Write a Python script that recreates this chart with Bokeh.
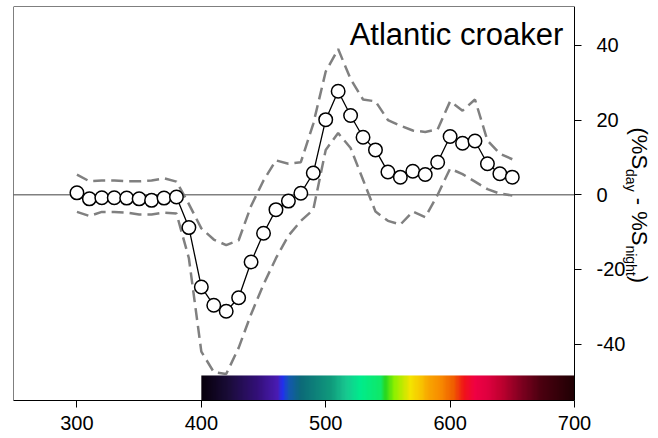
import numpy as np
from bokeh.plotting import figure
from bokeh.models import Range1d, Label, LinearAxis, ColumnDataSource
from bokeh.core.properties import value
from bokeh.embed import file_html
from bokeh.resources import INLINE

# Day-night difference in spectral sensitivity, Atlantic croaker
wavelength = list(range(300, 660, 10))
mean_diff = [0.5, -1.1, -0.8, -0.8, -0.9, -1.1, -1.5, -0.9, -0.6,
             -8.8, -24.7, -29.6, -31.2, -27.6, -18.0, -10.3, -4.0, -1.7, 0.4,
             5.8, 20.1, 27.7, 21.2, 15.4, 12.0, 6.1, 4.7, 6.3, 5.4, 8.7,
             15.6, 13.8, 14.4, 8.3, 5.6, 4.7]
upper_ci = [5.4, 3.6, 3.8, 3.8, 3.6, 3.6, 3.8, 4.4, 3.5,
            -2.5, -9.0, -12.0, -13.5, -12.2, -3.0, 3.8, 9.2, 8.3, 8.7,
            19.0, 33.0, 39.0, 31.0, 25.5, 25.0, 20.0, 18.5, 17.2, 16.8, 17.5,
            25.0, 22.5, 25.5, 14.5, 11.0, 9.5]
lower_ci = [-4.6, -5.7, -4.6, -4.6, -4.8, -5.3, -5.3, -4.8, -5.0,
            -17.0, -42.0, -47.5, -48.0, -41.0, -32.0, -24.0, -17.0, -11.0, -7.0,
            -4.0, 12.0, 16.5, 12.5, 4.0, -4.5, -7.0, -8.0, -4.5, -6.0, 0.0,
            7.0, 5.5, 3.5, 1.5, 0.3, -0.2]

x_ticks = [300, 400, 500, 600, 700]
y_ticks = [-40, -20, 0, 20, 40]
y_tick_labels = {-40: "-40", -20: "-20", 0: "0", 20: "20", 40: "40"}

# colour stops of the visible-spectrum strip (nm, colour)
spectrum_nm = [400, 421, 445, 461, 465, 470, 480, 504, 516, 528, 544, 548,
               555, 568, 576, 582, 592, 603, 611, 620, 630, 641, 657, 673, 700]
spectrum_hex = ["#08000c", "#1a0c38", "#34107a", "#4a1cb4", "#2030f0", "#1458b0",
                "#0c6a78", "#109a7c", "#18c890", "#00ec8c", "#10e868", "#28d820",
                "#8cf000", "#f4e400", "#f8c800", "#f8a800", "#f88c00", "#f05c00",
                "#f01418", "#f00044", "#e00040", "#c00030", "#800020", "#4c0010",
                "#200004"]

FONT = "Liberation Sans"
W, H = 658, 438
LEFT, TOP, BOTTOM = 13, 6, 38
BOX_RIGHT_PX = 574                  # where the plotting box ends
X0, X1 = 249, 700                   # wavelength span of the box
Y0, Y1 = -55.1, 50.4
px_x = (BOX_RIGHT_PX - LEFT) / (X1 - X0)
px_y = (H - TOP - BOTTOM) / (Y1 - Y0)
# the frame runs to the right edge so the axis title can sit inside it
X_FRAME = X0 + (W - LEFT) / px_x

p = figure(width=W, height=H, x_range=Range1d(X0, X_FRAME), y_range=Range1d(Y0, Y1),
           y_axis_location="right", output_backend="svg", toolbar_location=None,
           min_border_left=LEFT, min_border_right=0, min_border_top=TOP,
           min_border_bottom=BOTTOM)
p.xgrid.visible = False
p.ygrid.visible = False
p.outline_line_color = None
p.background_fill_color = "white"
p.border_fill_color = "white"

for ax, ticks in ((p.xaxis, x_ticks), (p.yaxis, y_ticks)):
    ax.ticker = ticks
    ax.major_tick_in = 0
    ax.major_tick_out = 7
    ax.minor_tick_line_color = None
    ax.major_tick_line_color = "black"
    ax.axis_line_color = "black"
    ax.major_label_text_font = FONT
    ax.major_label_text_font_size = "20px"
    ax.major_label_text_color = "black"
p.xaxis.bounds = (X0, X1)
p.xaxis.major_label_standoff = 8
p.yaxis.fixed_location = X1
p.yaxis.major_label_standoff = 15
p.yaxis.major_label_overrides = y_tick_labels

# left and top edges of the box
p.add_layout(LinearAxis(ticker=[], fixed_location=X0, axis_line_color="black",
                        major_tick_line_color=None, minor_tick_line_color=None), "left")
p.add_layout(LinearAxis(ticker=[], fixed_location=Y1, bounds=(X0, X1),
                        axis_line_color="black", major_tick_line_color=None,
                        minor_tick_line_color=None), "above")

# spectrum strip along the bottom, 400-700 nm
nm = np.arange(spectrum_nm[0], spectrum_nm[-1] + 1)
rgb = np.array([[int(h[i:i + 2], 16) for i in (1, 3, 5)] for h in spectrum_hex], dtype=float)
img = np.empty((1, len(nm)), dtype=np.uint32)
view = img.view(dtype=np.uint8).reshape((1, len(nm), 4))
for c in range(3):
    view[0, :, c] = np.interp(nm, spectrum_nm, rgb[:, c]).astype(np.uint8)
view[0, :, 3] = 255
strip_top = -48.4
p.image_rgba(image=[img], x=spectrum_nm[0], y=Y0, dw=spectrum_nm[-1] - spectrum_nm[0],
             dh=strip_top - Y0)

# zero reference line across the box
p.segment(x0=X0, y0=0, x1=X1, y1=0, line_color="#808080", line_width=1.5)

# confidence band edges
for band in (upper_ci, lower_ci):
    p.line(wavelength, band, line_color="#808080", line_width=2.5, line_dash="12 6")

# mean difference
p.line(wavelength, mean_diff, line_color="black", line_width=1.3)
p.scatter(wavelength, mean_diff, marker="circle", size=13.5, fill_color="white",
          line_color="black", line_width=1.5)

p.add_layout(Label(x=691, y=43, text="Atlantic croaker", text_font=FONT,
                   text_font_size="31px", text_align="right", text_baseline="alphabetic",
                   text_color="black"))

# rotated axis title with subscripts, set piece by piece right of the tick labels
em = {"(": 0.333, ")": 0.333, "%": 0.889, "S": 0.667, "-": 0.333, " ": 0.278,
      "d": 0.556, "a": 0.556, "y": 0.5, "n": 0.556, "i": 0.222, "g": 0.556,
      "h": 0.556, "t": 0.278}
pieces = [("(%S", 22, False), ("day", 14, True), (" - ", 22, False), ("%S", 22, False),
          ("night", 14, True), (")", 22, False)]
MAIN_BASE_PX, SUB_BASE_PX = 631, 625     # baselines of the rotated text
BASELINE_DROP = 0.365                    # anchor-to-baseline drop, in em
cursor = Y1 - (127 - TOP) / px_y         # where the title begins
xs, ys, texts, sizes = [], [], [], []
for txt, size, is_sub in pieces:
    lead = len(txt) - len(txt.lstrip(" "))
    base_px = SUB_BASE_PX if is_sub else MAIN_BASE_PX
    xs.append(X0 + (base_px + BASELINE_DROP * size - LEFT) / px_x)
    ys.append(cursor - sum(em[ch] for ch in txt[:lead]) * size / px_y)
    texts.append(txt.strip(" "))
    sizes.append(f"{size}px")
    cursor -= sum(em[ch] for ch in txt) * size / px_y
src = ColumnDataSource(dict(x=xs, y=ys, text=texts, size=sizes))
p.text(x="x", y="y", text="text", source=src, angle=-np.pi / 2, text_font=value(FONT),
       text_font_size="size", text_align="left", text_baseline="alphabetic",
       text_color="black")

open("out.html", "w").write(file_html(p, INLINE))
